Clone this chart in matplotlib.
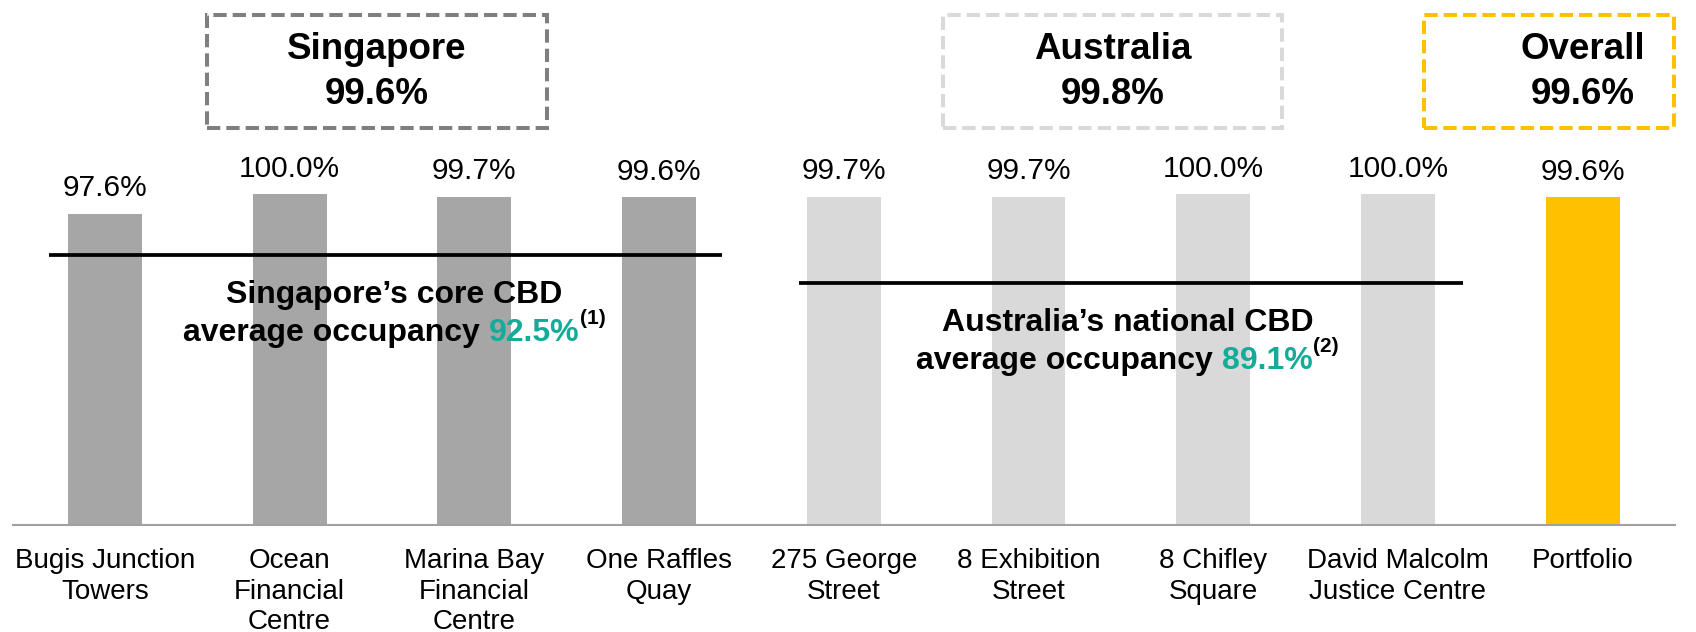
import matplotlib
matplotlib.use("Agg")
import matplotlib.pyplot as plt
from matplotlib.patches import Rectangle

plt.rcParams['font.family'] = ['Liberation Sans', 'DejaVu Sans']

# data
properties = ["Bugis Junction\nTowers", "Ocean\nFinancial\nCentre", "Marina Bay\nFinancial\nCentre",
              "One Raffles\nQuay", "275 George\nStreet", "8 Exhibition\nStreet", "8 Chifley\nSquare",
              "David Malcolm\nJustice Centre", "Portfolio"]
occupancy = [97.6, 100.0, 99.7, 99.6, 99.7, 99.7, 100.0, 100.0, 99.6]
region = ["sg", "sg", "sg", "sg", "au", "au", "au", "au", "all"]

group_names = ["Singapore", "Australia", "Overall"]
group_occ = [99.6, 99.8, 99.6]

bench_labels = ["Singapore\u2019s core CBD", "Australia\u2019s national CBD"]
bench_occ = [92.5, 89.1]
bench_notes = ["(1)", "(2)"]

colors = {"sg": "#a6a6a6", "au": "#d9d9d9", "all": "#ffc000"}
teal = "#14ab98"

fig = plt.figure(figsize=(16.96, 6.32), dpi=100)
ax = fig.add_axes([0.0074, 0.1699, 0.9802, 0.8301])

x = list(range(len(properties)))
ax.bar(x, occupancy, width=0.4, bottom=0, color=[colors[r] for r in region], zorder=2)
ax.set_xlim(-0.5, 8.5)
ax.set_ylim(59.5, 123.8)

for xi, v in zip(x, occupancy):
    ax.annotate(f"{v:.1f}%", (xi, v), xytext=(0, 12.5), textcoords="offset points",
                ha="center", va="baseline", fontsize=21.5)

ax.set_xticks(x, properties, fontsize=20, linespacing=1.22)
ax.tick_params(axis="x", length=0, pad=17)
ax.set_yticks([])
for s in ["top", "left", "right"]:
    ax.spines[s].set_visible(False)
ax.spines["bottom"].set_color("#a0a0a0")
ax.spines["bottom"].set_linewidth(1.5)

# dashed group boxes (x in data, y in axes fraction)
box_left = [0.553, 4.539, 7.139]
box_right = [2.395, 6.375, 8.497]
text_x_box = [1.474, 5.457, 8.0]
box_colors = ["#7f7f7f", "#d9d9d9", "#ffc000"]
tr = ax.get_xaxis_transform()
for x0, x1, tx, c, name, v in zip(box_left, box_right, text_x_box, box_colors, group_names, group_occ):
    ax.add_patch(Rectangle((x0, 0.756), x1 - x0, 0.2154, transform=tr, fill=False,
                           edgecolor=c, lw=2.9, linestyle=(0, (3.3, 1.5)), clip_on=False))
    ax.text(tx, 0.8628, f"{name}\n{v:.1f}%", transform=tr, ha="center", va="center",
            fontsize=26.5, fontweight="bold", linespacing=1.4)

# benchmark lines and labels
line_spans = [(-0.30, 3.343), (3.755, 7.355)]
text_x = [1.567, 5.536]
pieces_all = []
for (x0, x1), tx, lab, v, note in zip(line_spans, text_x, bench_labels, bench_occ, bench_notes):
    ax.plot([x0, x1], [v, v], color="black", lw=2.7, zorder=3, solid_capstyle="butt")
    ax.annotate(lab, (tx, v), xytext=(0, -34.5), textcoords="offset points", ha="center",
                va="baseline", fontsize=23, fontweight="bold")
    parts = []
    for s, c, fs, dy in [("average occupancy", "black", 23, -61.5),
                         (f"{v:.1f}%", teal, 23, -61.5),
                         (note, "black", 15, -49.5)]:
        t = ax.annotate(s, (tx, v), xytext=(0, dy), textcoords="offset points", ha="left",
                        va="baseline", fontsize=fs, fontweight="bold", color=c)
        parts.append((t, dy))
    pieces_all.append(parts)

fig.canvas.draw()
r = fig.canvas.get_renderer()
gap = 6.4 * 100 / 72
for parts in pieces_all:
    widths = [t.get_window_extent(r).width for t, _ in parts]
    total = widths[0] + gap + widths[1] + widths[2]
    off = -total / 2
    for k, ((t, dy), w) in enumerate(zip(parts, widths)):
        t.xyann = (off * 72 / 100, dy)
        off += w + (gap if k == 0 else 0)

fig.savefig("out.png", dpi=100)
